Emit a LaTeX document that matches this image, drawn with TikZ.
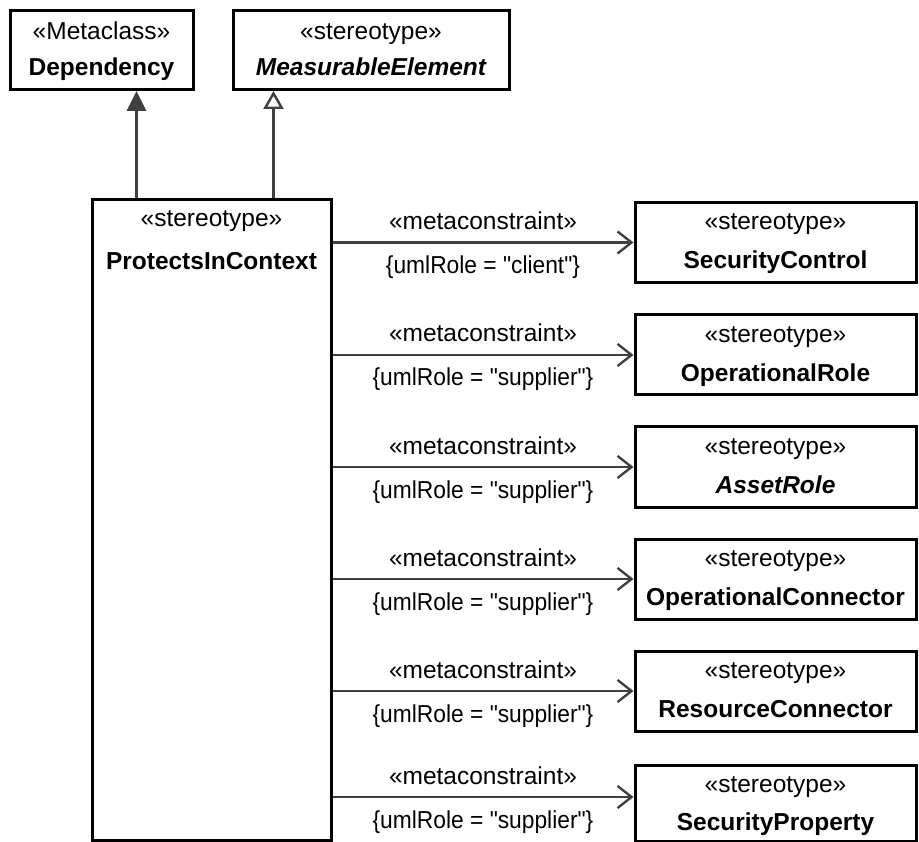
\documentclass[tikz,border=0pt]{standalone}
\usepackage{fontspec}
\setmainfont{Liberation Sans}[Ligatures=TeXOff]
\usetikzlibrary{arrows.meta}
\definecolor{conn}{HTML}{404040}
\tikzset{
  x=1pt,y=-1pt,
  umlbox/.style={draw=black,line width=3pt,fill=white,rectangle,inner sep=0pt},
  rbox/.style={umlbox,minimum width=281pt,minimum height=80pt},
  conline/.style={draw=conn,line width=2.8pt},
  depend/.style={conline,-{Straight Barb[length=14pt,width=22pt,line width=2.4pt]}},
  genfill/.style={conline,-{Triangle[length=20pt,width=19pt,fill=conn]}},
  genopen/.style={conline,-{Triangle[open,length=18pt,width=20pt,fill=white,line width=2.4pt]}},
  lbl/.style={font=\fontsize{24.5}{28}\selectfont,inner sep=0pt,anchor=base},
  nm/.style={lbl,font=\fontsize{24.5}{28}\selectfont\bfseries}
}
\begin{document}
\begin{tikzpicture}
\useasboundingbox (0,0) rectangle (919,842);
\node[umlbox,minimum width=183pt,minimum height=79pt] (dep) at (101.5,50) {};
\node[lbl] (depS) at ([yshift=-31pt]dep.north) {«Metaclass»};
\node[nm] (depN) at ([yshift=-67pt]dep.north) {Dependency};
\node[umlbox,minimum width=276pt,minimum height=79pt] (meas) at (371,50) {};
\node[lbl] (measS) at ([yshift=-31pt]meas.north) {«stereotype»};
\node[nm] (measN) at ([yshift=-67pt]meas.north) {\itshape MeasurableElement};

\node[umlbox,minimum width=239pt,minimum height=640pt] (pic) at (211.5,520) {};
\node[lbl] (picS) at ([yshift=-28pt]pic.north) {«stereotype»};
\node[nm] (picN) at ([yshift=-71pt]pic.north) {ProtectsInContext};

\foreach \n/\y/\txt in {sc/242.5/SecurityControl, or/355/OperationalRole, ar/467/{\itshape AssetRole},
    oc/579/OperationalConnector, rc/691/ResourceConnector}{
  \node[rbox] (\n) at (775.5,\y) {};
  \node[lbl] (\n S) at ([yshift=-29pt]\n.north) {«stereotype»};
  \node[nm] (\n N) at ([yshift=-68pt]\n.north) {\txt};
}
\node[rbox,minimum height=76pt] (sp) at (775.5,803) {};
\node[lbl] (spS) at ([yshift=-29pt]sp.north) {«stereotype»};
\node[nm] (spN) at ([yshift=-67pt]sp.north) {SecurityProperty};

\draw[genfill] ([xshift=46pt]pic.north west) -- ([xshift=46pt]pic.north west |- dep.south);
\draw[genopen] ([xshift=183pt]pic.north west) -- ([xshift=183pt]pic.north west |- meas.south);

\foreach \t/\r/\dy in {sc/client/0, or/supplier/0, ar/supplier/0, oc/supplier/0, rc/supplier/0, sp/supplier/6}{
  \coordinate (e\t) at ([yshift=\dy pt]\t.west);
  \draw[depend] (pic.east |- e\t) -- (e\t)
    coordinate[pos=0.5] (m\t);
  \node[lbl] at ([yshift=13pt]m\t) {«metaconstraint»};
  \node[lbl] at ([yshift=-31pt]m\t) {\scalebox{0.93}[1]{\{umlRole = "\r"\}}};
}
\end{tikzpicture}
\end{document}
